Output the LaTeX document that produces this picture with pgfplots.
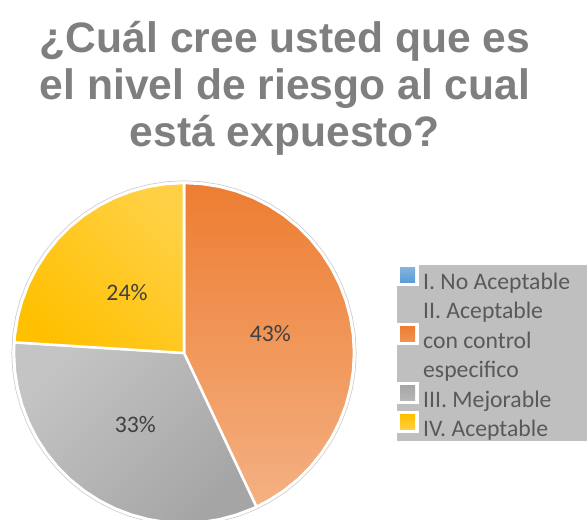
\documentclass[border=0pt]{standalone}
\usepackage{pgfplots}
\pgfplotsset{compat=1.18}
\usepgfplotslibrary{polar}
\usepackage{fontspec}
\setmainfont{Carlito}
\newfontfamily\titlefont{Liberation Sans}
\definecolor{titlegray}{HTML}{7F7F7F}
\definecolor{leggray}{HTML}{BFBFBF}
\definecolor{legtext}{HTML}{595959}
\definecolor{labtext}{HTML}{404040}
\definecolor{orA}{HTML}{ED7D31}
\definecolor{orB}{HTML}{F4B183}
\definecolor{grA}{HTML}{C4C4C4}
\definecolor{grB}{HTML}{A5A5A5}
\definecolor{yeA}{HTML}{FFD043}
\definecolor{yeB}{HTML}{FFC000}
\definecolor{blA}{HTML}{5B9BD5}
\definecolor{ringgray}{HTML}{D0D0D0}
\pgfplotsset{sqimg/.style 2 args={legend image code/.code={%
  \fill[white, draw=none, overlay] (-4bp,-3.5bp) rectangle (19bp,18.5bp);
  \shade[draw=none, overlay, top color=#1, bottom color=#2] (0bp,0bp) rectangle (15bp,15bp);
  \path[draw=none] (-4bp,2bp) rectangle (19bp,12bp);}}}
\begin{document}
\begin{tikzpicture}
\useasboundingbox (0,0) rectangle (587bp,520bp);
\fill[leggray] (397bp,79bp) rectangle (587bp,255bp);
\tikzset{ttl/.style={anchor=base, text=titlegray, font={\titlefont\bfseries\fontsize{42.6bp}{47bp}\selectfont}}}
\node[ttl] at (285bp,467bp) {¿Cuál cree usted que es};
\node[ttl] at (285bp,420bp) {el nivel de riesgo al cual};
\node[ttl] at (285bp,373bp) {está expuesto?};
\begin{polaraxis}[
  at={(184bp,167bp)}, anchor=center,
  scale only axis, width=340bp, height=340bp,
  ymin=0, ymax=1, hide axis, clip=false,
  legend cell align=left,
  legend style={at={(1.1235,0.744)}, anchor=north west, draw=none, fill=none,
    inner sep=0pt, row sep=5.5bp,
    font={\fontsize{23.7bp}{28bp}\selectfont}, text=legtext,
    nodes={inner xsep=0pt, inner ysep=0pt, text height=19bp, text depth=5bp},
    /tikz/every odd column/.append style={column sep=4bp}},
]
% 43% : orange, 90 -> -64.8
\addplot[forget plot, draw=white, line width=2.5bp, line join=round,
  top color=orA, middle color=orA!92!orB, bottom color=orB]
  coordinates {(0,0) (90,1) (84,1) (78,1) (72,1) (66,1) (60,1) (54,1) (48,1) (42,1) (36,1) (30,1) (24,1) (18,1) (12,1) (6,1) (0,1) (-6,1) (-12,1) (-18,1) (-24,1) (-30,1) (-36,1) (-42,1) (-48,1) (-54,1) (-60,1) (-64.8,1)} -- cycle;
% 33% : gray, -64.8 -> -183.6
\addplot[forget plot, draw=white, line width=2.5bp, line join=round,
  top color=grA, middle color=grB, bottom color=grB, shading angle=45]
  coordinates {(0,0) (-64.8,1) (-66,1) (-72,1) (-78,1) (-84,1) (-90,1) (-96,1) (-102,1) (-108,1) (-114,1) (-120,1) (-126,1) (-132,1) (-138,1) (-144,1) (-150,1) (-156,1) (-162,1) (-168,1) (-174,1) (-180,1) (-183.6,1)} -- cycle;
% 24% : yellow, -183.6 -> -270
\addplot[forget plot, draw=white, line width=2.5bp, line join=round,
  top color=yeA, middle color=yeB, bottom color=yeB, shading angle=-45]
  coordinates {(0,0) (-183.6,1) (-186,1) (-192,1) (-198,1) (-204,1) (-210,1) (-216,1) (-222,1) (-228,1) (-234,1) (-240,1) (-246,1) (-252,1) (-258,1) (-264,1) (-270,1)} -- cycle;
% outer thin ring
\addplot[forget plot, draw=ringgray, line width=0.7bp]
  coordinates {(0,1.013) (6,1.013) (12,1.013) (18,1.013) (24,1.013) (30,1.013) (36,1.013) (42,1.013) (48,1.013) (54,1.013) (60,1.013) (66,1.013) (72,1.013) (78,1.013) (84,1.013) (90,1.013) (96,1.013) (102,1.013) (108,1.013) (114,1.013) (120,1.013) (126,1.013) (132,1.013) (138,1.013) (144,1.013) (150,1.013) (156,1.013) (162,1.013) (168,1.013) (174,1.013) (180,1.013) (186,1.013) (192,1.013) (198,1.013) (204,1.013) (210,1.013) (216,1.013) (222,1.013) (228,1.013) (234,1.013) (240,1.013) (246,1.013) (252,1.013) (258,1.013) (264,1.013) (270,1.013) (276,1.013) (282,1.013) (288,1.013) (294,1.013) (300,1.013) (306,1.013) (312,1.013) (318,1.013) (324,1.013) (330,1.013) (336,1.013) (342,1.013) (348,1.013) (354,1.013) (360,1.013)};
% labels
\node[text=labtext, font={\fontsize{23.7bp}{28bp}\selectfont}] at (axis cs:12.6,0.52) {43\%};
\node[text=labtext, font={\fontsize{23.7bp}{28bp}\selectfont}] at (axis cs:-124.2,0.51) {33\%};
\node[text=labtext, font={\fontsize{23.7bp}{28bp}\selectfont}] at (axis cs:133.2,0.49) {24\%};
% legend
\addlegendimage{sqimg={blA!75!white}{blA}}
\addlegendentry{I. No Aceptable}
\addlegendimage{empty legend}
\addlegendentry{II. Aceptable}
\addlegendimage{sqimg={orA}{orA!60!orB}}
\addlegendentry{con control}
\addlegendimage{empty legend}
\addlegendentry{especifico}
\addlegendimage{sqimg={grB}{grB!80!white}}
\addlegendentry{III. Mejorable}
\addlegendimage{sqimg={yeB}{yeA}}
\addlegendentry{IV. Aceptable}
\end{polaraxis}
\end{tikzpicture}
\end{document}
